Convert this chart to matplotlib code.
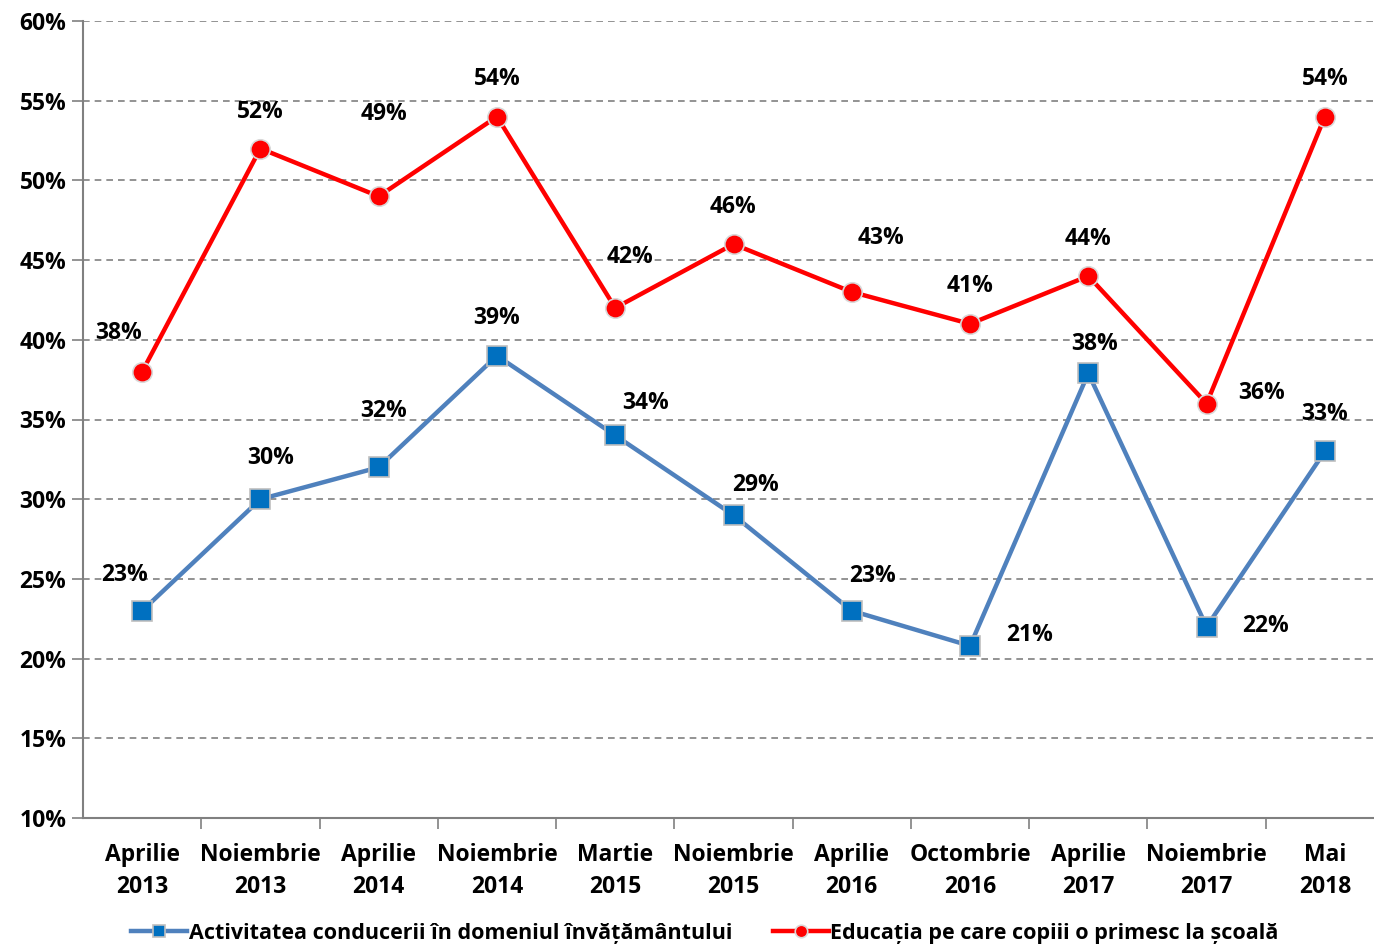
import numpy as np
import matplotlib.pyplot as plt

# survey waves
periods = ["Aprilie\n2013", "Noiembrie\n2013", "Aprilie\n2014", "Noiembrie\n2014", "Martie\n2015",
           "Noiembrie\n2015", "Aprilie\n2016", "Octombrie\n2016", "Aprilie\n2017", "Noiembrie\n2017",
           "Mai\n2018"]

# percentages
conducere = [23, 30, 32, 39, 34, 29, 23, 20.8, 37.9, 22, 33]
educatie = [38, 52, 49, 54, 42, 46, 43, 41, 44, 36, 54]

name_blue = "Activitatea conducerii în domeniul învățământului"
name_red = "Educația pe care copiii o primesc la școală"

# label offsets in pixels (dx, dy) relative to each point
off_blue = [(-18, 36), (10, 41), (5, 56), (0, 38), (30, 32), (22, 30), (21, 35), (60, 11), (6, 29), (59, 1), (0, 37)]
off_red = [(-24, 39), (0, 37), (5, 82), (0, 38), (15, 51), (0, 37), (29, 54), (0, 38), (0, 37), (55, 11), (0, 38)]

plt.rcParams['font.family'] = ['Open Sans', 'DejaVu Sans']
plt.rcParams['font.weight'] = 'bold'
fs = 16.5

fig = plt.figure(figsize=(13.74, 9.51), dpi=100)
ax = fig.add_axes([83 / 1374, 133 / 951, 1301 / 1374, 797 / 951])

x = np.arange(len(periods))
ax.plot(x, conducere, color='#4F81BD', linewidth=3.2, marker='s', markersize=14,
        markerfacecolor='#0070C0', markeredgecolor='#BFBFBF', markeredgewidth=1.2,
        label=name_blue, zorder=3)
ax.plot(x, educatie, color='#FF0000', linewidth=3.2, marker='o', markersize=14,
        markerfacecolor='#FF0000', markeredgecolor='#D9D9D9', markeredgewidth=1.2,
        label=name_red, zorder=4)

for i, v in enumerate(conducere):
    ax.annotate(f"{v:.0f}%", (x[i], v), xytext=off_blue[i], textcoords='offset pixels',
                ha='center', va='center', fontsize=fs, fontweight='bold')
for i, v in enumerate(educatie):
    ax.annotate(f"{v:.0f}%", (x[i], v), xytext=off_red[i], textcoords='offset pixels',
                ha='center', va='center', fontsize=fs, fontweight='bold')

ax.set_xlim(-0.5, len(periods) - 0.5)
ax.set_ylim(10, 60)
ax.set_yticks(np.arange(10, 61, 5))
ax.set_yticklabels([f"{t}%" for t in range(10, 61, 5)], fontsize=fs, fontweight='bold')
ax.set_xticks(x)
ax.set_xticklabels(periods, fontsize=fs, fontweight='bold', linespacing=1.45)
ax.set_xticks(np.arange(0.5, len(periods) - 0.5, 1), minor=True)
ax.tick_params(axis='x', which='major', length=0, pad=18)
ax.tick_params(axis='x', which='minor', length=8, color='#808080', width=1.2)
ax.tick_params(axis='y', length=8, color='#808080', width=1.2, pad=4)

ax.grid(axis='y', color='#808080', linestyle=(0, (4, 3)), linewidth=1.2)
ax.set_axisbelow(True)
for s in ['top', 'right']:
    ax.spines[s].set_visible(False)
for s in ['left', 'bottom']:
    ax.spines[s].set_color('#808080')
    ax.spines[s].set_linewidth(1.5)

leg = fig.legend(loc='lower center', bbox_to_anchor=(0.513, -0.013), ncol=2, frameon=False,
                 handlelength=2.6, handletextpad=0.05, columnspacing=1.9,
                 prop={'family': ['Open Sans', 'DejaVu Sans'], 'weight': 'bold', 'size': 15.5})
for h in leg.legend_handles:
    h.set_markersize(9)

fig.savefig('out.png', dpi=100)
